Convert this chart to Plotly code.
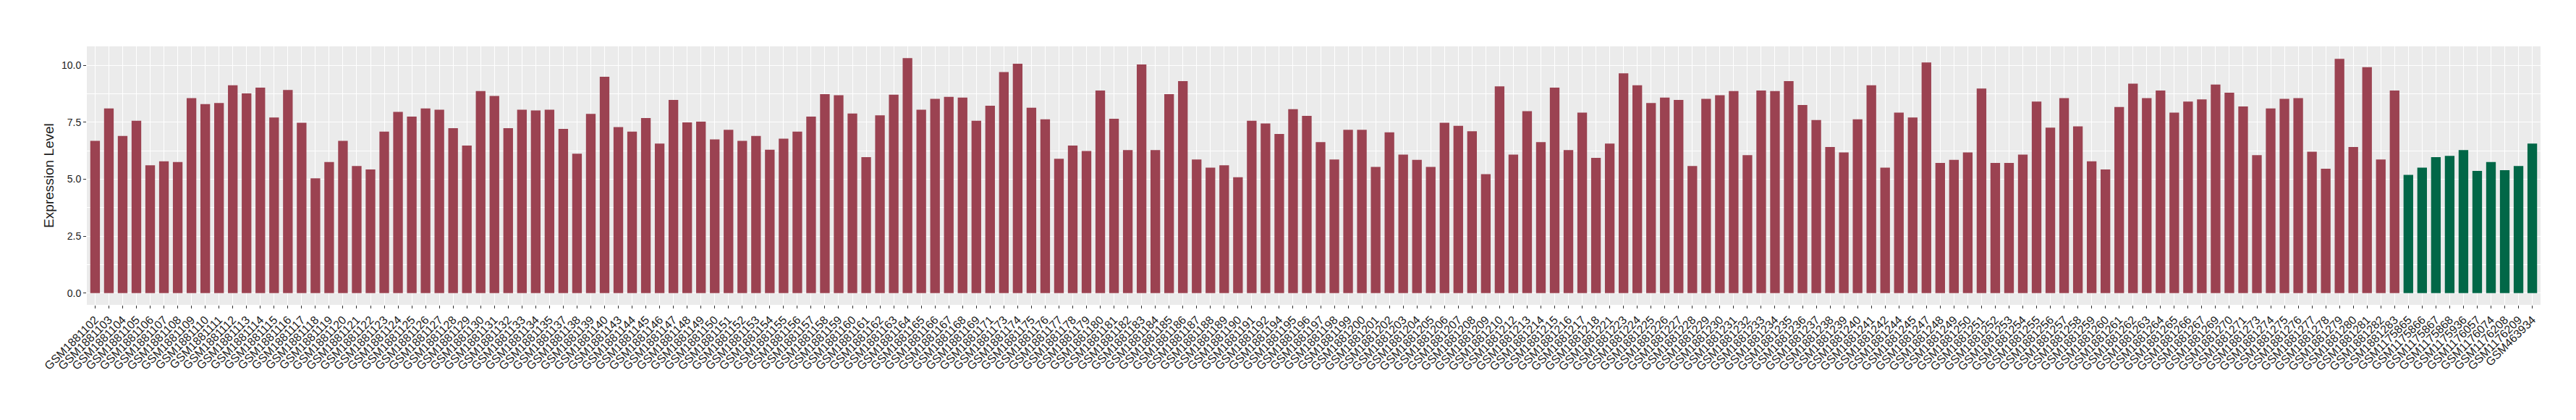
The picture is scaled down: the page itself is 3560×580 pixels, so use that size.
import plotly.graph_objects as go

red_ids = [1102,1103,1104,1105,1106,1107,1108,1109,1110,1111,1112,1113,1114,1115,1116,1117,
           1118,1119,1120,1121,1122,1123,1124,1125,1126,1127,1128,1129,1130,1131,1132,1133,
           1134,1135,1137,1138,1139,1140,1143,1144,1145,1146,1147,1148,1149,1150,1151,1152,
           1153,1154,1155,1156,1157,1158,1159,1160,1161,1162,1163,1164,1165,1166,1167,1168,
           1169,1171,1173,1174,1175,1176,1177,1178,1179,1180,1181,1182,1183,1184,1185,
           1186,1187,1188,1189,1190,1191,1192,1194,1195,1196,1197,1198,1199,1200,1201,1202,
           1203,1204,1205,1206,1207,1208,1209,1210,1212,1213,1214,1215,1216,1217,1218,1221,
           1223,1224,1225,1226,1227,1228,1229,1230,1231,1232,1233,1234,1235,1236,1237,1238,
           1239,1240,1241,1242,1244,1245,1247,1248,1249,1250,1251,1252,1253,1254,1255,
           1256,1257,1258,1259,1260,1261,1262,1263,1264,1265,1266,1267,1269,1270,1271,1273,
           1274,1275,1276,1277,1278,1279,1280,1281,1282,1283]
red_labels = ["GSM188" + str(i) for i in red_ids]
red_values = [6.69,8.11,6.90,7.57,5.61,5.79,5.76,8.56,8.30,8.35,9.13,8.77,9.02,7.71,8.92,7.48,
              5.04,5.76,6.69,5.58,5.43,7.09,7.96,7.75,8.11,8.05,7.24,6.48,8.87,8.66,7.24,8.05,
              8.02,8.05,7.21,6.12,7.87,9.50,7.29,7.09,7.69,6.57,8.48,7.50,7.53,6.75,7.17,6.69,
              6.90,6.30,6.78,7.09,7.75,8.74,8.69,7.89,5.97,7.81,8.71,10.32,8.05,8.53,8.62,8.59,
              7.57,8.23,9.71,10.07,8.14,7.63,5.90,6.48,6.24,8.90,7.66,6.28,10.04,6.28,8.74,
              9.31,5.87,5.51,5.61,5.09,7.57,7.45,6.99,8.08,7.78,6.63,5.87,7.17,7.17,5.54,7.06,
              6.08,5.85,5.54,7.48,7.35,7.11,5.22,9.08,6.08,7.99,6.63,9.02,6.28,7.93,5.94,6.57,
              9.65,9.13,8.35,8.59,8.48,5.58,8.53,8.69,8.87,6.06,8.90,8.87,9.31,8.26,7.60,6.42,
              6.18,7.63,9.13,5.51,7.93,7.71,10.13,5.72,5.85,6.18,8.98,5.72,5.72,6.08,8.41,
              7.27,8.56,7.32,5.79,5.43,8.17,9.20,8.56,8.90,7.93,8.41,8.51,9.16,8.80,8.20,6.06,
              8.11,8.53,8.56,6.21,5.46,10.29,6.42,9.92,5.87,8.90]

green_labels = ["GSM1175865","GSM1175866","GSM1175867","GSM1175868","GSM1175936",
                "GSM1176057","GSM1176074","GSM1176208","GSM1176209","GSM463934"]
green_values = [5.19,5.51,5.97,6.03,6.28,5.37,5.76,5.40,5.58,6.57]

y_ticks = [0, 2.5, 5, 7.5, 10]
y_tick_text = ["0.0", "2.5", "5.0", "7.5", "10.0"]

RED = "#9B4251"
GREEN = "#016747"

categories = red_labels + green_labels

fig = go.Figure()
fig.add_trace(go.Bar(x=red_labels, y=red_values, marker=dict(color=RED, line=dict(width=0)),
                     width=0.7, showlegend=False))
fig.add_trace(go.Bar(x=green_labels, y=green_values, marker=dict(color=GREEN, line=dict(width=0)),
                     width=0.7, showlegend=False))

fig.update_layout(
    width=3560, height=580,
    margin=dict(l=112, r=57, t=56, b=167),
    paper_bgcolor="white",
    plot_bgcolor="#EBEBEB",
    font=dict(family="Liberation Sans, Arial, sans-serif", color="#1a1a1a"),
    bargap=0.3,
)
fig.update_xaxes(
    type="category", categoryorder="array", categoryarray=categories,
    range=[-0.6, len(categories) - 0.4],
    tickangle=-45, tickfont=dict(size=16, color="#1a1a1a"),
    showgrid=True, gridcolor="white", gridwidth=1.2,
    ticks="outside", ticklen=4, tickcolor="#333333", tickwidth=1,
    showline=False, zeroline=False,
)
fig.update_yaxes(
    range=[-0.516, 10.836],
    tickmode="array", tickvals=y_ticks, ticktext=y_tick_text,
    tickfont=dict(size=14, color="#1a1a1a"),
    showgrid=True, gridcolor="white", gridwidth=1.2,
    minor=dict(tickmode="array", tickvals=[1.25, 3.75, 6.25, 8.75], showgrid=True,
               gridcolor="white", gridwidth=0.6, ticks=""),
    ticks="outside", ticklen=4, tickcolor="#333333", tickwidth=1,
    zeroline=False, showline=False,
    title=dict(text="Expression Level", font=dict(size=19, color="#1a1a1a"), standoff=5),
)

fig.write_html("out.html")
